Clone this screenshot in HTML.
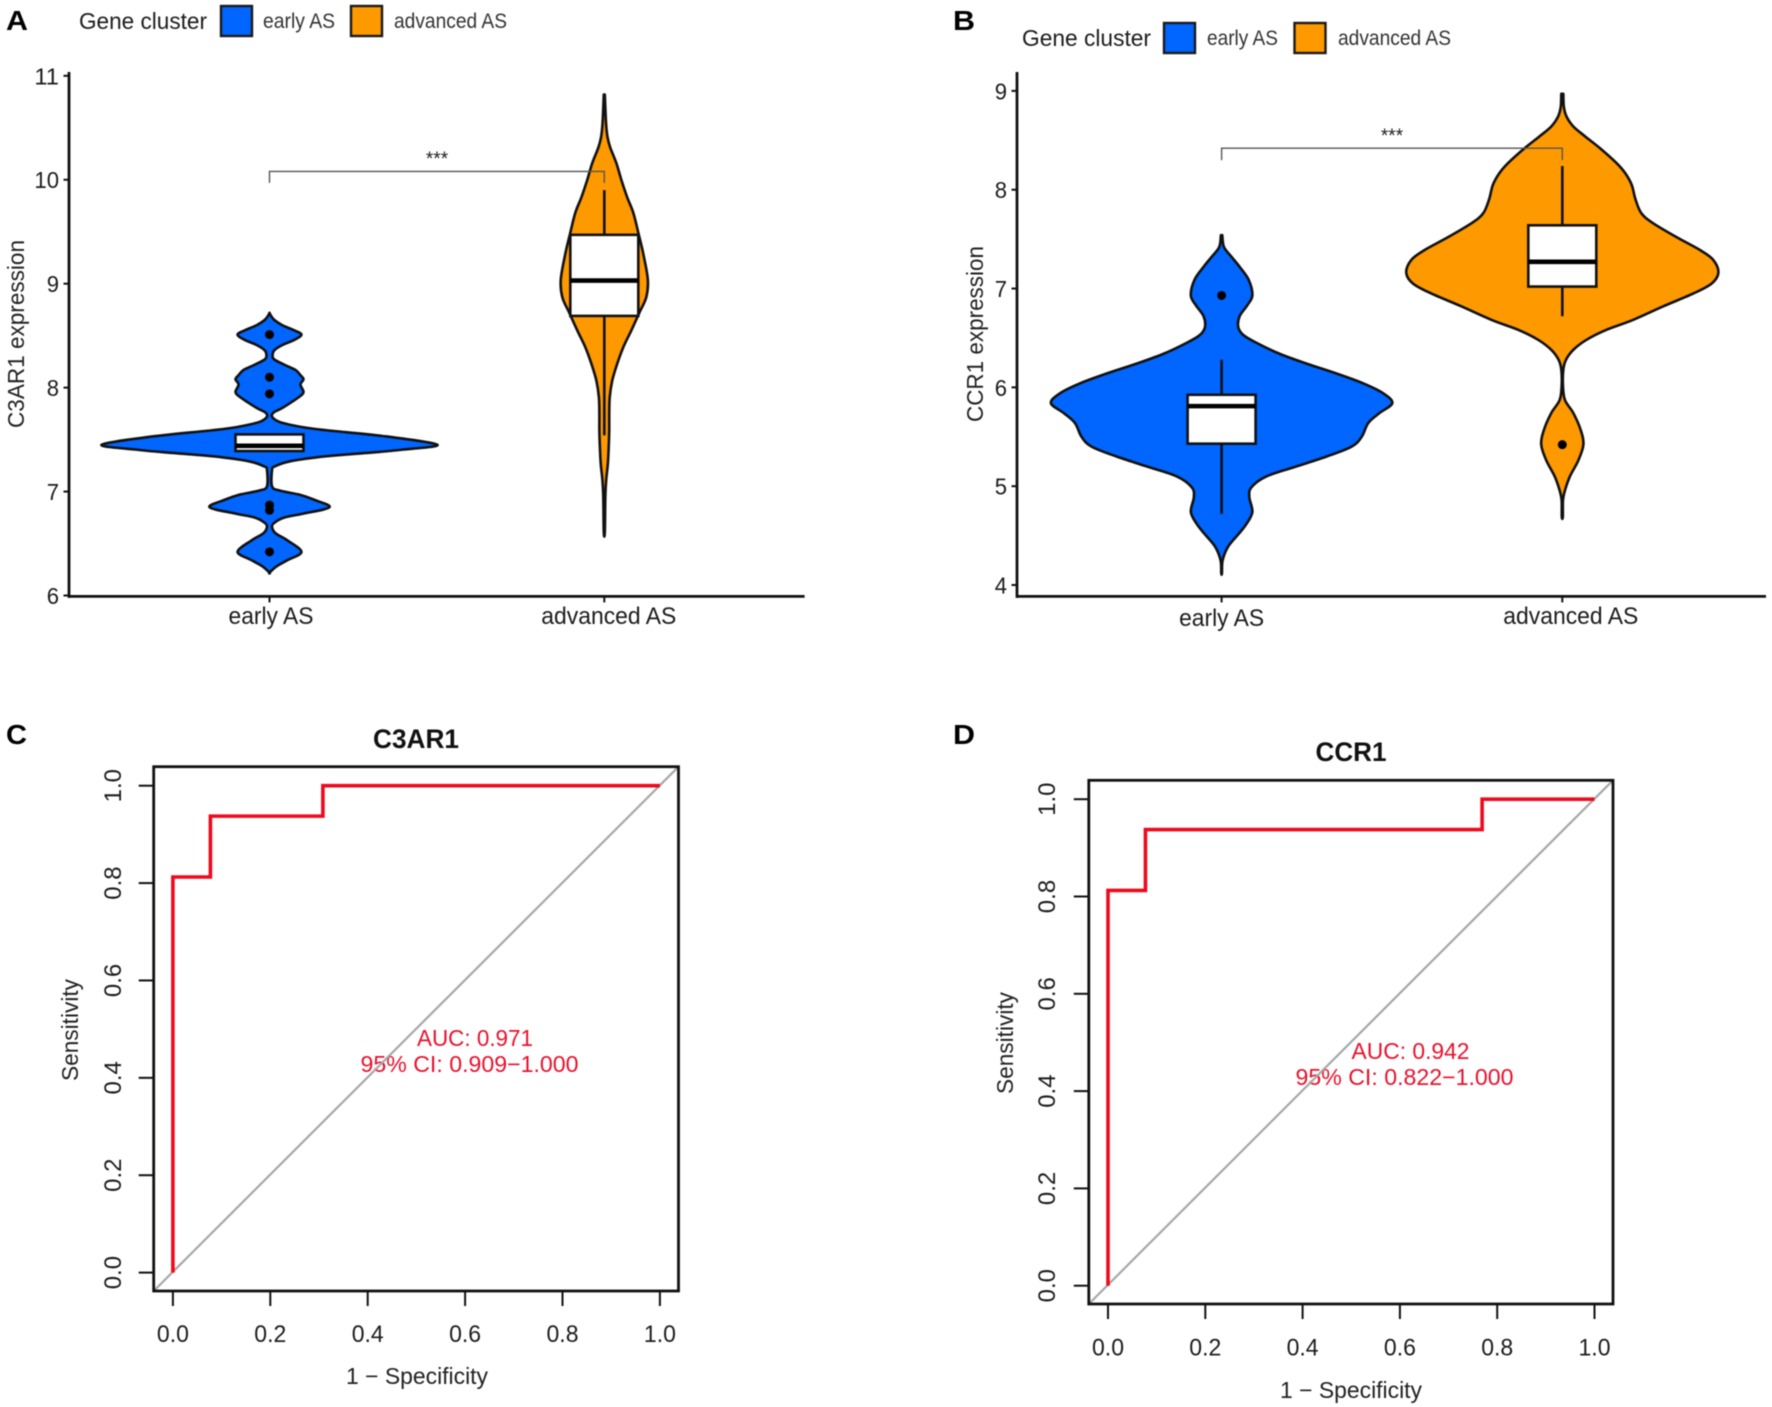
<!DOCTYPE html>
<html lang="en">
<head>
<meta charset="utf-8">
<title>Gene cluster violin and ROC panels</title>
<style>
html,body{margin:0;padding:0;background:#fff;width:1772px;height:1407px;overflow:hidden}
svg{display:block;filter:blur(0.4px)}
text{font-family:"Liberation Sans",sans-serif;fill:#1c1c1c}
.pl{font-weight:700;font-size:28px;fill:#000}
.lg{font-size:23px}
.le{font-size:21px;fill:#333}
.at{font-size:23px;fill:#222}
.rt{font-size:27px;font-weight:700;fill:#111}
.auc{font-size:23px;fill:#e8112d}
</style>
</head>
<body>
<svg id="fig" xmlns="http://www.w3.org/2000/svg" width="1772" height="1407" viewBox="0 0 1772 1407">
  <rect x="0" y="0" width="1772" height="1407" fill="#fff"/>

  <g id="panelA">
    <text class="pl" x="6" y="30" textLength="22" lengthAdjust="spacingAndGlyphs">A</text>
    <text class="lg" x="79" y="29" textLength="128" lengthAdjust="spacingAndGlyphs">Gene cluster</text>
    <rect x="221" y="6" width="31" height="30" fill="#0066ff" stroke="#1a1a1a" stroke-width="2.4"/>
    <text class="le" x="263" y="28" textLength="72" lengthAdjust="spacingAndGlyphs">early AS</text>
    <rect x="351" y="6" width="31" height="30" fill="#ff9900" stroke="#1a1a1a" stroke-width="2.4"/>
    <text class="le" x="394" y="28" textLength="113" lengthAdjust="spacingAndGlyphs">advanced AS</text>
    <text class="at" transform="translate(24 334) rotate(-90)" text-anchor="middle" textLength="188" lengthAdjust="spacingAndGlyphs">C3AR1 expression</text>
  </g>

  <g id="panelB">
    <text class="pl" x="953" y="30" textLength="22" lengthAdjust="spacingAndGlyphs">B</text>
    <text class="lg" x="1022" y="46" textLength="129" lengthAdjust="spacingAndGlyphs">Gene cluster</text>
    <rect x="1164" y="23" width="31" height="30" fill="#0066ff" stroke="#1a1a1a" stroke-width="2.4"/>
    <text class="le" x="1207" y="45" textLength="71" lengthAdjust="spacingAndGlyphs">early AS</text>
    <rect x="1294.5" y="23" width="31" height="30" fill="#ff9900" stroke="#1a1a1a" stroke-width="2.4"/>
    <text class="le" x="1338" y="45" textLength="113" lengthAdjust="spacingAndGlyphs">advanced AS</text>
    <text class="at" transform="translate(983 334) rotate(-90)" text-anchor="middle" textLength="176" lengthAdjust="spacingAndGlyphs">CCR1 expression</text>
  </g>

  <g id="panelC">
    <text class="pl" x="6" y="744" textLength="21" lengthAdjust="spacingAndGlyphs">C</text>
    <text class="rt" x="416" y="748" text-anchor="middle" textLength="86" lengthAdjust="spacingAndGlyphs">C3AR1</text>
    <text class="at" x="417" y="1384" text-anchor="middle" textLength="142" lengthAdjust="spacingAndGlyphs">1 − Specificity</text>
    <text class="at" transform="translate(78 1030) rotate(-90)" text-anchor="middle" textLength="102" lengthAdjust="spacingAndGlyphs">Sensitivity</text>
    <text class="auc" x="417" y="1046" textLength="116" lengthAdjust="spacingAndGlyphs">AUC: 0.971</text>
    <text class="auc" x="360.5" y="1072" textLength="218" lengthAdjust="spacingAndGlyphs">95% CI: 0.909−1.000</text>
  </g>

  <g id="panelD">
    <text class="pl" x="953" y="744" textLength="22" lengthAdjust="spacingAndGlyphs">D</text>
    <text class="rt" x="1351" y="761" text-anchor="middle" textLength="71" lengthAdjust="spacingAndGlyphs">CCR1</text>
    <text class="at" x="1351" y="1398" text-anchor="middle" textLength="142" lengthAdjust="spacingAndGlyphs">1 − Specificity</text>
    <text class="at" transform="translate(1013 1043) rotate(-90)" text-anchor="middle" textLength="102" lengthAdjust="spacingAndGlyphs">Sensitivity</text>
    <text class="auc" x="1351.5" y="1059" textLength="118" lengthAdjust="spacingAndGlyphs">AUC: 0.942</text>
    <text class="auc" x="1295.5" y="1085" textLength="218" lengthAdjust="spacingAndGlyphs">95% CI: 0.822−1.000</text>
  </g>
</svg>

<script>
/* ---------- Panel A data ---------- */
const categories = ['early AS', 'advanced AS'];
const aTickLabels = [6, 7, 8, 9, 10, 11];
const aEarlyValues = [8.72,8.69,8.65,8.60,8.55,8.51,8.46,8.41,8.36,8.31,8.27,8.22,8.17,8.12,8.08,8.03,7.96,7.92,7.86,7.80,7.76,7.72,7.67,7.62,7.59,7.53,7.45,7.40,7.37,7.34,7.29,7.24,7.21,7.05,7.01,6.97,6.92,6.85,6.79,6.75,6.70,6.66,6.60,6.53,6.42,6.34,6.28,6.22];
const aEarlyDensity = [0,0.9,2.9,7.6,14.7,18.8,14.7,7.6,2.9,1.8,2.9,8.8,15.3,18.2,20,18.2,20,18.2,12.9,7.1,2.4,1.5,5.9,19.4,33.5,68.8,98.8,76.5,55.9,33.5,11.8,2.9,1.5,1.5,5.9,17.6,26.5,35.3,20.6,8.8,2.9,1.5,3.5,10.6,18.8,10.6,4.1,0];
const aAdvValues = [10.82,10.55,10.41,10.31,10.16,10.0,9.83,9.68,9.47,9.29,9.04,8.87,8.72,8.55,8.39,8.23,8.07,7.91,7.75,7.59,7.43,7.27,7.11,6.95,6.61];
const aAdvDensity = [0.3,1.0,1.9,3.5,7.1,10,13.5,17.1,20.3,22.9,25.6,24.7,20.6,15.9,11.2,7.6,4.7,3.2,2.9,2.9,2.6,2.1,1.1,0.6,0.3];
const aEarlyBox = [7.39, 7.44, 7.55];
const aEarlyWhisker = [7.39, 7.55];
const aEarlyOutliers = [8.51, 8.10, 7.94, 6.87, 6.82, 6.42];
const aAdvBox = [8.69, 9.03, 9.47];
const aAdvWhisker = [7.54, 9.90];
const aAdvOutliers = [];
const aBracket = [9.97, 10.08];

/* ---------- Panel B data ---------- */
const bTickLabels = [4, 5, 6, 7, 8, 9];
const bEarlyValues = [7.54,7.42,7.32,7.22,7.09,6.93,6.83,6.72,6.61,6.53,6.45,6.34,6.24,6.14,6.04,5.94,5.84,5.74,5.64,5.50,5.40,5.30,5.20,5.10,4.99,4.89,4.74,4.62,4.52,4.39,4.25,4.12];
const bEarlyDensity = [0.4,1.4,5.9,10.6,15.9,18.1,15.1,10.6,9.8,12.8,20.6,34.1,50,67.6,83.4,95.1,100.4,92.9,86.3,82.4,76.5,61.8,44.1,26.5,17.6,16.3,18.1,14.7,10.2,3.9,0.6,0.2];
const bAdvValues = [8.97,8.84,8.74,8.64,8.54,8.42,8.27,8.17,8.05,7.90,7.76,7.66,7.52,7.39,7.29,7.16,7.05,6.95,6.82,6.68,6.58,6.48,6.38,6.28,6.18,6.01,5.87,5.74,5.57,5.42,5.26,5.10,4.96,4.86,4.69];
const bAdvDensity = [0.6,0.9,2.5,6.5,13.4,22.2,31.9,36.9,40.8,43.1,46.6,53.5,67.2,81,88.8,91.8,87.8,77.1,59.4,41.2,25.6,14.1,6.5,2.2,0.6,0.4,1.6,6.5,10.8,12.4,9.4,4.5,1.6,0.4,0.3];
const bEarlyBox = [5.43, 5.81, 5.925];
const bEarlyWhisker = [4.72, 6.28];
const bEarlyOutliers = [6.93];
const bAdvBox = [7.02, 7.27, 7.64];
const bAdvWhisker = [6.72, 8.24];
const bAdvOutliers = [5.42];
const bBracket = [8.30, 8.42];

/* ---------- ROC data ---------- */
const rocTicks = [0, 0.2, 0.4, 0.6, 0.8, 1];
const cFpr = [0, 0, 0.077, 0.077, 0.308, 0.308, 1];
const cTpr = [0, 0.8125, 0.8125, 0.9375, 0.9375, 1, 1];
const dFpr = [0, 0, 0.077, 0.077, 0.769, 0.769, 1];
const dTpr = [0, 0.8125, 0.8125, 0.9375, 0.9375, 1, 1];

const NS = 'http://www.w3.org/2000/svg';
const BLUE = '#0066ff', ORANGE = '#ff9900', INK = '#111';

function node(parent, tag, attrs) {
  const el = document.createElementNS(NS, tag);
  for (const k in attrs) el.setAttribute(k, attrs[k]);
  parent.appendChild(el);
  return el;
}
function linear(d0, d1, r0, r1) {
  return v => r0 + (v - d0) * (r1 - r0) / (d1 - d0);
}
function smooth(pts) {
  let d = 'M' + pts[0][0].toFixed(2) + ' ' + pts[0][1].toFixed(2);
  for (let i = 0; i < pts.length - 1; i++) {
    const p0 = pts[Math.max(i - 1, 0)], p1 = pts[i], p2 = pts[i + 1], p3 = pts[Math.min(i + 2, pts.length - 1)];
    const t = 6;
    d += 'C' + (p1[0] + (p2[0] - p0[0]) / t).toFixed(2) + ' ' + (p1[1] + (p2[1] - p0[1]) / t).toFixed(2) + ' ' +
         (p2[0] - (p3[0] - p1[0]) / t).toFixed(2) + ' ' + (p2[1] - (p3[1] - p1[1]) / t).toFixed(2) + ' ' +
         p2[0].toFixed(2) + ' ' + p2[1].toFixed(2);
  }
  return d;
}
function violinPath(values, density, cx, y, wd) {
  const right = values.map((v, i) => [cx + wd(density[i]), y(v)]);
  const left = values.map((v, i) => [cx - wd(density[i]), y(v)]).reverse();
  return smooth(right.concat(left)) + 'Z';
}
const widthScale = linear(0, 100, 0, 170);

function drawViolinPanel(g, y, xL, xR, axisX, axisTop, axisY, axisEnd, ticks, series, bracket, starsX, starsY, catY, catShift) {
  const xPos = [xL, xR];
  const catWidth = [85, 135];
  series.forEach(function (s, idx) {
    const cx = xPos[idx];
    const violin = node(g, 'path', {d: violinPath(s.values, s.density, cx, y, widthScale), fill: s.color, stroke: INK, 'stroke-width': 2.6, 'stroke-linejoin': 'round'});
    
    

    const whisker = node(g, 'line', {x1: cx, x2: cx, y1: y(s.whisker[0]), y2: y(s.whisker[1]), stroke: INK, 'stroke-width': 2.6});
    
    

    const box = node(g, 'rect', {x: cx - 34, width: 68, y: y(s.box[2]), height: y(s.box[0]) - y(s.box[2]), fill: '#fff', stroke: INK, 'stroke-width': 2.6});
    
    

    const median = node(g, 'line', {x1: cx - 34, x2: cx + 34, y1: y(s.box[1]), y2: y(s.box[1]), stroke: '#000', 'stroke-width': 4.6});
    
    

    s.outliers.forEach(function (o) {
      const dot = node(g, 'circle', {cx: cx, cy: y(o), r: 4.5, fill: '#000'});
      
      
    });
  });

  const br = node(g, 'path', {d: 'M' + xL + ' ' + y(bracket[0]) + 'V' + y(bracket[1]) + 'H' + xR + 'V' + y(bracket[0]), fill: 'none', stroke: '#555', 'stroke-width': 1.4});
  
  

  const stars = node(g, 'text', {x: starsX, y: starsY, 'text-anchor': 'middle', 'font-size': 19, fill: '#222'});
  stars.textContent = '***';
  
  

  const yAxis = node(g, 'line', {x1: axisX, x2: axisX, y1: axisTop, y2: axisY + 1.5, stroke: '#111', 'stroke-width': 2.8});
  
  

  const xAxis = node(g, 'line', {x1: axisX, x2: axisEnd, y1: axisY, y2: axisY, stroke: '#111', 'stroke-width': 2.8});
  
  

  ticks.forEach(function (t) {
    const tick = node(g, 'line', {x1: axisX - 5.5, x2: axisX, y1: y(t), y2: y(t), stroke: '#111', 'stroke-width': 2});
    
    

    const lab = node(g, 'text', {x: axisX - 10, y: y(t) + 8.5, 'text-anchor': 'end', 'font-size': 23.5, fill: '#222', textLength: String(t).length * 12.3, lengthAdjust: 'spacingAndGlyphs'});
    lab.textContent = String(t);
    
    
  });

  categories.forEach(function (c, i) {
    const tick = node(g, 'line', {x1: xPos[i], x2: xPos[i], y1: axisY, y2: axisY + 6, stroke: '#111', 'stroke-width': 2});
    
    

    const lab = node(g, 'text', {x: xPos[i] + catShift[i], y: catY[i], 'text-anchor': 'middle', 'font-size': 24, fill: '#222', textLength: catWidth[i], lengthAdjust: 'spacingAndGlyphs'});
    lab.textContent = c;
    
    
  });
}

function drawRocPanel(g, x, y, fpr, tpr, boxL, boxR, boxT, boxB, tickXLabelY, tickYLabelX) {
  const diag = node(g, 'line', {x1: boxL, y1: boxB, x2: boxR, y2: boxT, stroke: '#a8a8a8', 'stroke-width': 2.2});
  
  

  const pts = fpr.map((f, i) => x(f).toFixed(2) + ',' + y(tpr[i]).toFixed(2)).join(' ');
  const roc = node(g, 'polyline', {points: pts, fill: 'none', stroke: '#ee0a1c', 'stroke-width': 3.6, 'stroke-linejoin': 'miter'});
  
  

  const frame = node(g, 'rect', {x: boxL, y: boxT, width: boxR - boxL, height: boxB - boxT, fill: 'none', stroke: '#111', 'stroke-width': 2.8});
  
  

  rocTicks.forEach(function (t) {
    const xt = node(g, 'line', {x1: x(t), x2: x(t), y1: boxB, y2: boxB + 15, stroke: '#111', 'stroke-width': 2});
    
    

    const xl = node(g, 'text', {x: x(t), y: tickXLabelY, 'text-anchor': 'middle', 'font-size': 24, fill: '#222', textLength: 32, lengthAdjust: 'spacingAndGlyphs'});
    xl.textContent = t.toFixed(1);
    
    

    const yt = node(g, 'line', {x1: boxL - 15, x2: boxL, y1: y(t), y2: y(t), stroke: '#111', 'stroke-width': 2});
    
    

    const yl = node(g, 'text', {transform: 'translate(' + tickYLabelX + ' ' + y(t) + ') rotate(-90)', 'text-anchor': 'middle', 'font-size': 24, fill: '#222'});
    yl.textContent = t.toFixed(1);
    
    
  });
}

drawViolinPanel(document.getElementById('panelA'), linear(6, 11, 595.5, 75.8), 269.5, 604.3, 69, 72, 596.4, 804.6, aTickLabels, [
  {values: aEarlyValues, density: aEarlyDensity, color: BLUE, box: aEarlyBox, whisker: aEarlyWhisker, outliers: aEarlyOutliers},
  {values: aAdvValues, density: aAdvDensity, color: ORANGE, box: aAdvBox, whisker: aAdvWhisker, outliers: aAdvOutliers}
], aBracket, 437, 165, [624, 624], [1.5, 4.5]);

drawViolinPanel(document.getElementById('panelB'), linear(4, 9, 585, 90.9), 1221.6, 1562.3, 1017, 72, 596.4, 1766, bTickLabels, [
  {values: bEarlyValues, density: bEarlyDensity, color: BLUE, box: bEarlyBox, whisker: bEarlyWhisker, outliers: bEarlyOutliers},
  {values: bAdvValues, density: bAdvDensity, color: ORANGE, box: bAdvBox, whisker: bAdvWhisker, outliers: bAdvOutliers}
], bBracket, 1392, 142, [626, 624], [0, 8.5]);

drawRocPanel(document.getElementById('panelC'), linear(0, 1, 172.9, 659.9), linear(0, 1, 1272.6, 785.7), cFpr, cTpr, 153.7, 678.5, 766.7, 1291, 1342, 121);
drawRocPanel(document.getElementById('panelD'), linear(0, 1, 1108, 1594.5), linear(0, 1, 1285.7, 799.2), dFpr, dTpr, 1088.8, 1613, 780.3, 1304, 1355.5, 1055);
</script>
</body>
</html>
